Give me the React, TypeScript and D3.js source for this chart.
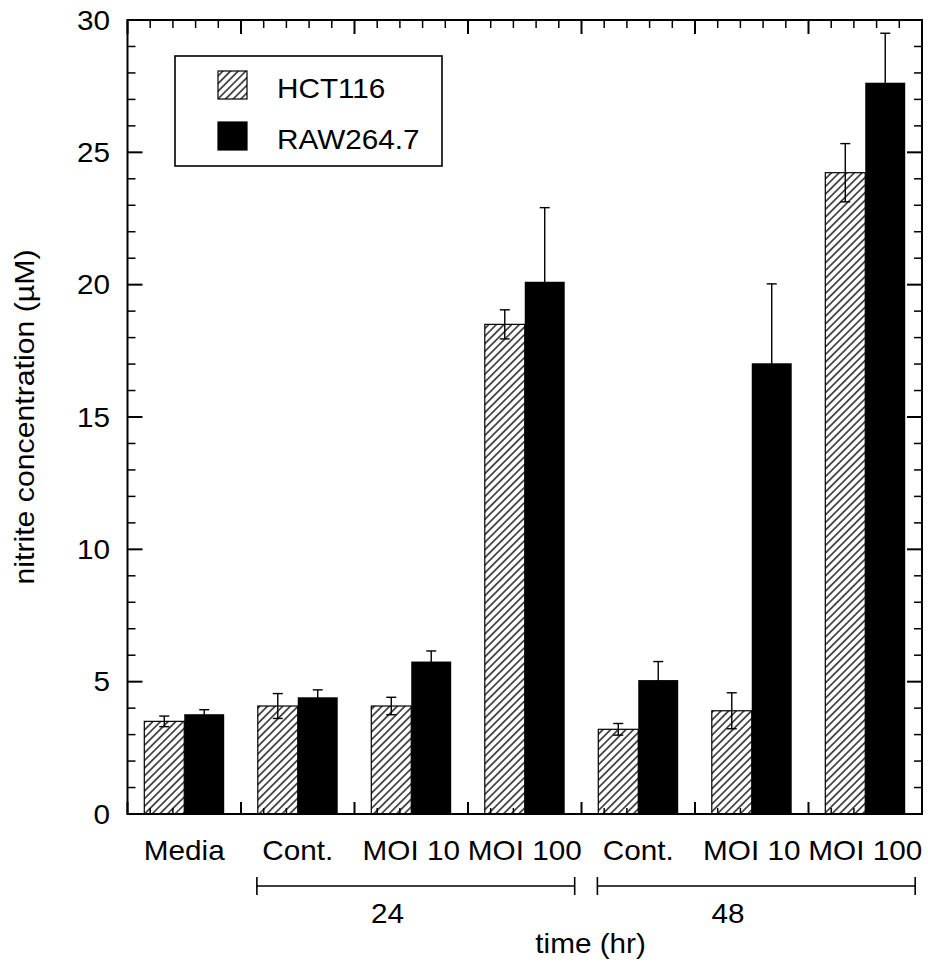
import { useEffect, useRef } from "react";
import * as d3 from "d3";

// nitrite concentration (uM)
const categories = ["Media", "Cont.", "MOI 10", "MOI 100", "Cont.", "MOI 10", "MOI 100"];
const hct116 = [3.5, 4.08, 4.08, 18.5, 3.2, 3.9, 24.23];
const hct116Err = [0.2, 0.47, 0.33, 0.55, 0.22, 0.68, 1.1];
const raw264 = [3.77, 4.41, 5.76, 20.11, 5.06, 17.03, 27.63];
const raw264Err = [0.17, 0.28, 0.4, 2.8, 0.7, 3.0, 1.87];
const yTicks = [0, 5, 10, 15, 20, 25, 30];
const seriesNames = ["HCT116", "RAW264.7"];
const timeLabels = ["24", "48"];
const timeSpans = [[1, 3], [4, 6]]; // first / last group under each bracket

export default function App() {
  const ref = useRef<SVGSVGElement>(null);

  useEffect(() => {
    const width = 928;
    const height = 966;
    const marginTop = 20;
    const marginBottom = 814;
    const marginLeft = 127.5;
    const marginRight = 922;
    const font = '"Liberation Sans", Arial, Helvetica, sans-serif';
    const stretch = 1.1;

    const svg = d3.select(ref.current);
    svg.selectAll("*").remove();
    svg.attr("viewBox", [0, 0, width, height]).attr("width", width).attr("height", height);

    const x = d3.scaleLinear([0, categories.length], [marginLeft, marginRight]);
    const y = d3.scaleLinear([0, 30], [marginBottom, marginTop]);
    const step = x(1) - x(0);
    const bw = step * 0.352;
    const cx = (i: number) => x(i + 0.5);

    const defs = svg.append("defs");
    const pat = defs.append("pattern")
      .attr("id", "hatch")
      .attr("patternUnits", "userSpaceOnUse")
      .attr("width", 5.4)
      .attr("height", 10)
      .attr("patternTransform", "rotate(45)");
    pat.append("rect").attr("width", 5.4).attr("height", 10).attr("fill", "white");
    pat.append("line")
      .attr("x1", 2.7).attr("x2", 2.7).attr("y1", 0).attr("y2", 10)
      .attr("stroke", "black").attr("stroke-width", 1.3);

    const text = (g: any, tx: number, ty: number, s: string, anchor: string, size = 27, sx = stretch) =>
      g.append("text")
        .attr("transform", `translate(${tx},${ty}) scale(${sx},1)`)
        .attr("text-anchor", anchor)
        .attr("font-family", font)
        .attr("font-size", size)
        .attr("fill", "black")
        .text(s);

    // bars
    const bars = svg.append("g");
    bars.selectAll("rect.hct")
      .data(hct116)
      .join("rect")
      .attr("class", "hct")
      .attr("x", (_, i) => cx(i) - bw)
      .attr("y", d => y(d))
      .attr("width", bw)
      .attr("height", d => y(0) - y(d))
      .attr("fill", "url(#hatch)")
      .attr("stroke", "black")
      .attr("stroke-width", 1.2);
    bars.selectAll("rect.raw")
      .data(raw264)
      .join("rect")
      .attr("class", "raw")
      .attr("x", (_, i) => cx(i))
      .attr("y", d => y(d))
      .attr("width", bw)
      .attr("height", d => y(0) - y(d))
      .attr("fill", "black");

    // error bars
    const errs = svg.append("g").attr("stroke", "black").attr("stroke-width", 1.4);
    const drawErr = (vals: number[], err: number[], offset: number) => {
      vals.forEach((v, i) => {
        const ex = cx(i) + offset;
        const y1 = y(v + err[i]);
        const y2 = y(v - err[i]);
        errs.append("line").attr("x1", ex).attr("x2", ex).attr("y1", y1).attr("y2", y2);
        errs.append("line").attr("x1", ex - 5).attr("x2", ex + 5).attr("y1", y1).attr("y2", y1);
        errs.append("line").attr("x1", ex - 5).attr("x2", ex + 5).attr("y1", y2).attr("y2", y2);
      });
    };
    drawErr(hct116, hct116Err, -bw / 2);
    drawErr(raw264, raw264Err, bw / 2);

    // frame and inward ticks on all four sides
    const axes = svg.append("g").attr("stroke", "black");
    axes.append("rect")
      .attr("x", x(0)).attr("y", y(30))
      .attr("width", x(7) - x(0)).attr("height", y(0) - y(30))
      .attr("fill", "none").attr("stroke-width", 2);

    const yMinor = d3.range(0, 31, 1);
    yMinor.forEach(v => {
      const major = v % 5 === 0;
      const len = major ? 15 : 8;
      axes.append("line").attr("x1", x(0)).attr("x2", x(0) + len).attr("y1", y(v)).attr("y2", y(v))
        .attr("stroke-width", major ? 2 : 1.5);
      axes.append("line").attr("x1", x(7)).attr("x2", x(7) - len).attr("y1", y(v)).attr("y2", y(v))
        .attr("stroke-width", major ? 2 : 1.5);
    });
    const xMinor = d3.range(0, 36).map(k => k / 5);
    xMinor.forEach((v, k) => {
      const major = k % 5 === 0;
      axes.append("line").attr("x1", x(v)).attr("x2", x(v))
        .attr("y1", y(30)).attr("y2", y(30) + (major ? 14 : 8))
        .attr("stroke-width", major ? 2 : 1.5);
      axes.append("line").attr("x1", x(v)).attr("x2", x(v))
        .attr("y1", y(0)).attr("y2", y(0) - (major ? 12 : 6))
        .attr("stroke-width", major ? 2 : 1.5);
    });

    // y tick labels
    yTicks.forEach(v => text(svg, 110, y(v) + 9.5, String(v), "end"));

    // y title
    svg.append("text")
      .attr("transform", `translate(34,${(y(0) + y(30)) / 2}) rotate(-90) scale(1.1,1)`)
      .attr("text-anchor", "middle")
      .attr("font-family", font)
      .attr("font-size", 27.5)
      .text("nitrite concentration (\u00b5M)");

    // category labels
    categories.forEach((c, i) => text(svg, cx(i), 860, c, "middle"));

    // time brackets
    const br = svg.append("g").attr("stroke", "black").attr("stroke-width", 1.6);
    timeSpans.forEach(([a, b], k) => {
      const x1 = cx(a) - step * 0.36;
      const x2 = cx(b) + step * 0.44;
      br.append("line").attr("x1", x1).attr("x2", x2).attr("y1", 886).attr("y2", 886);
      br.append("line").attr("x1", x1).attr("x2", x1).attr("y1", 877).attr("y2", 895);
      br.append("line").attr("x1", x2).attr("x2", x2).attr("y1", 877).attr("y2", 895);
      text(svg, cx(a) + step * 0.79, 923, timeLabels[k], "middle");
    });
    text(svg, x(4.08), 953, "time (hr)", "middle");

    // legend
    const lg = svg.append("g");
    lg.append("rect").attr("x", 175).attr("y", 56).attr("width", 267).attr("height", 110)
      .attr("fill", "white").attr("stroke", "black").attr("stroke-width", 1.6);
    const fills = ["url(#hatch)", "black"];
    seriesNames.forEach((name, i) => {
      lg.append("rect").attr("x", 218).attr("y", 71 + i * 51).attr("width", 29).attr("height", 28)
        .attr("fill", fills[i]).attr("stroke", "black").attr("stroke-width", 1.2);
      text(lg, 277, 98 + i * 51, name, "start");
    });
  }, []);

  return <svg ref={ref} style={{ position: "absolute", left: 0, top: 0, background: "white" }}></svg>;
}
